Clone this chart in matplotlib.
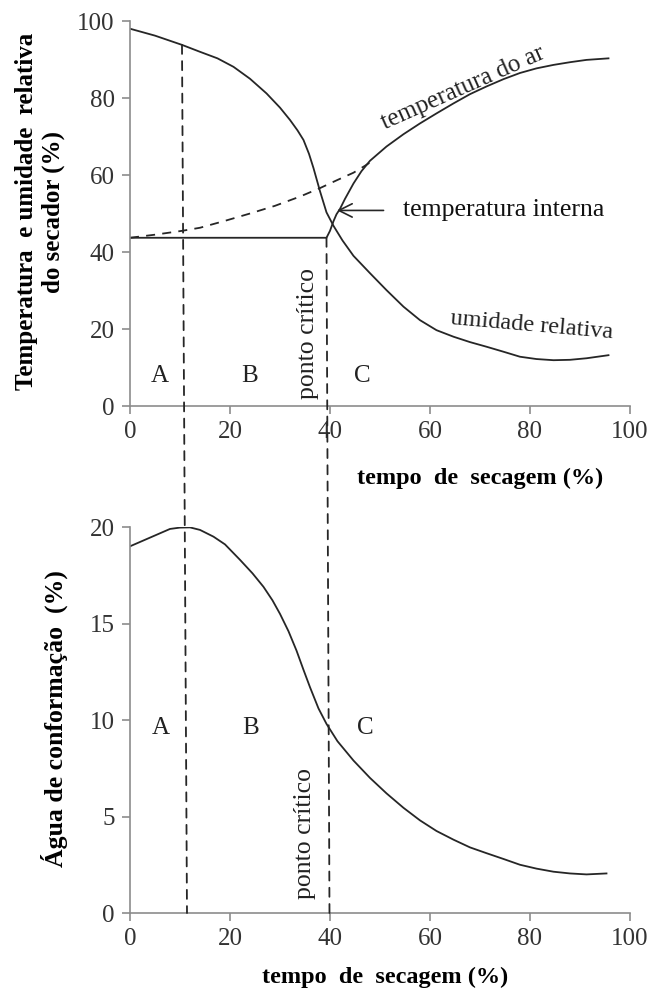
import numpy as np
import matplotlib
matplotlib.use('Agg')
import matplotlib.pyplot as plt
from matplotlib.patches import ConnectionPatch

plt.rcParams['font.family'] = ['Liberation Serif', 'DejaVu Serif']

# ---- data ----
# top: relative humidity of the dryer
ur_x = [0, 5, 10.4, 14, 17.5, 20.7, 24, 27.3, 30, 32, 33.5, 34.7, 35.8, 36.7,
        38, 39.3, 40.7, 42.5, 44.7, 48, 51.3, 54.7, 58, 61.3, 64.7, 68, 71.3,
        74.7, 78, 81.3, 84.7, 88, 91.3, 95.7]
ur_y = [98, 96.2, 93.8, 92, 90.3, 88.1, 85, 81.2, 77.5, 74.3, 71.6, 69.1, 65.5,
        61.8, 55.8, 50.3, 46.8, 43, 39, 34.5, 30.1, 25.8, 22.3, 19.7, 18,
        16.6, 15.4, 14.1, 12.8, 12.2, 11.9, 12, 12.4, 13.2]

# top: internal temperature
ti_x = [0, 39.3, 40, 40.7, 41.3, 42, 43, 44.7, 46.3, 48, 51.3, 54.7, 58, 61.3,
        64.7, 68, 71.3, 74.7, 78, 81.3, 84.7, 88, 91.3, 95.7]
ti_y = [43.7, 43.7, 45.5, 48, 49.8, 51.2, 53.8, 57.8, 61, 63.7, 67.4, 70.6,
        73.4, 76, 78.6, 81, 83, 84.9, 86.5, 87.7, 88.6, 89.3, 89.9, 90.3]

# top: air temperature (dashed part)
ar_x = [0, 5, 10.4, 14, 19, 24, 29, 34, 38, 41.3, 44.7, 47, 48.5]
ar_y = [43.7, 44.5, 45.5, 46.3, 48.1, 50, 52, 54.4, 56.6, 58.6, 60.6, 62.4, 63.7]

# bottom: conformation water
ag_x = [0, 4, 8, 10, 12, 14, 16.7, 19, 22, 24.5, 26.7, 28.5, 30, 31.7, 33.3,
        34.7, 36, 37.7, 39.3, 41.5, 44.7, 48, 51.3, 54.7, 58, 61.3, 64.7, 68,
        71.3, 74.7, 78, 81.3, 84.7, 88, 91.3, 95.3]
ag_y = [19, 19.45, 19.9, 19.97, 19.98, 19.85, 19.5, 19.1, 18.3, 17.6, 16.9,
        16.2, 15.5, 14.6, 13.6, 12.6, 11.7, 10.6, 9.8, 8.9, 7.9, 7.0, 6.2, 5.45,
        4.8, 4.25, 3.8, 3.4, 3.1, 2.8, 2.5, 2.3, 2.14, 2.05, 2.0, 2.05]

xticks = [0, 20, 40, 60, 80, 100]
yticks_top = [0, 20, 40, 60, 80, 100]
yticks_bot = [0, 5, 10, 15, 20]

# phase limits (top start, bottom end)
fase1 = [(10.4, 93.8), (11.4, 0)]
fase2 = [(39.3, 43.7), (39.9, 0)]

line_c = '#262626'
spine_c = '#8c8c8c'
txt_c = '#222222'

fig = plt.figure(figsize=(6.49, 9.91), dpi=100)
ax1 = fig.add_axes([0.2003, 0.5903, 0.7704, 0.3885])
ax2 = fig.add_axes([0.2003, 0.0787, 0.7704, 0.3895])


def estilo(ax, yt):
    for s in ['top', 'right']:
        ax.spines[s].set_visible(False)
    for s in ['left', 'bottom']:
        ax.spines[s].set_color(spine_c)
        ax.spines[s].set_linewidth(1.2)
    ax.set_xlim(0, 100)
    ax.set_xticks(xticks)
    ax.set_yticks(yt)
    ax.set_ylim(yt[0], yt[-1])
    ax.tick_params(direction='out', length=6, width=1.2, color=spine_c,
                   labelsize=18, labelcolor='#333333', pad=5)


estilo(ax1, yticks_top)
estilo(ax2, yticks_bot)

# ---- top plot ----
ax1.plot(ar_x, ar_y, '--', color=line_c, lw=1.3, dashes=(5, 4))
ax1.plot(ti_x, ti_y, '-', color=line_c, lw=1.3)
ax1.plot(ur_x, ur_y, '-', color=line_c, lw=1.3)

ax1.text(66.6, 82.5, 'temperatura do ar', fontsize=18, rotation=24,
         ha='center', va='center', color=txt_c)
ax1.annotate('temperatura interna', xy=(41.4, 50.8), xytext=(54.6, 50.8),
             fontsize=18.5, va='center', ha='left', color='#111111',
             arrowprops=dict(arrowstyle='->', color=line_c, lw=1.2,
                             mutation_scale=24, shrinkA=12, shrinkB=0))
ax1.text(80.3, 21, 'umidade relativa', fontsize=17.5, rotation=-5,
         ha='center', va='center', color=txt_c)
ax1.text(35.7, 1.8, 'ponto crítico', fontsize=18.5, rotation=90,
         ha='center', va='bottom', color=txt_c)
for lab, xx in zip(['A', 'B', 'C'], [6, 24, 46.5]):
    ax1.text(xx, 7.8, lab, fontsize=18, ha='center', va='center', color=txt_c)

ax1.set_ylabel('Temperatura  e umidade  relativa\ndo secador (%)',
               fontsize=18, fontweight='bold', linespacing=1.25)
ax1.yaxis.label.set_va('center')
ax1.yaxis.set_label_coords(-0.18, 0.505)
ax1.set_xlabel('tempo  de  secagem (%)', fontsize=17.5, fontweight='bold')
ax1.xaxis.label.set_va('center')
ax1.xaxis.set_label_coords(0.70, -0.187)

# ---- bottom plot ----
ax2.plot(ag_x, ag_y, '-', color=line_c, lw=1.3)
ax2.text(35, 0.7, 'ponto crítico', fontsize=18.5, rotation=90,
         ha='center', va='bottom', color=txt_c)
for lab, xx in zip(['A', 'B', 'C'], [6.2, 24.2, 47]):
    ax2.text(xx, 9.6, lab, fontsize=18, ha='center', va='center', color=txt_c)

ax2.set_ylabel('Água de conformação  (%)', fontsize=18.5, fontweight='bold')
ax2.yaxis.label.set_va('center')
ax2.yaxis.set_label_coords(-0.152, 0.503)
ax2.set_xlabel('tempo  de  secagem (%)', fontsize=17.5, fontweight='bold')
ax2.xaxis.label.set_va('center')
ax2.xaxis.set_label_coords(0.51, -0.166)

# ---- dashed phase lines across both plots ----
for (p_top, p_bot) in [fase1, fase2]:
    con = ConnectionPatch(xyA=p_top, coordsA=ax1.transData,
                          xyB=p_bot, coordsB=ax2.transData,
                          linestyle=(0, (5, 4)), color=line_c, lw=1.3)
    fig.add_artist(con)

plt.savefig('out.png', dpi=100)
